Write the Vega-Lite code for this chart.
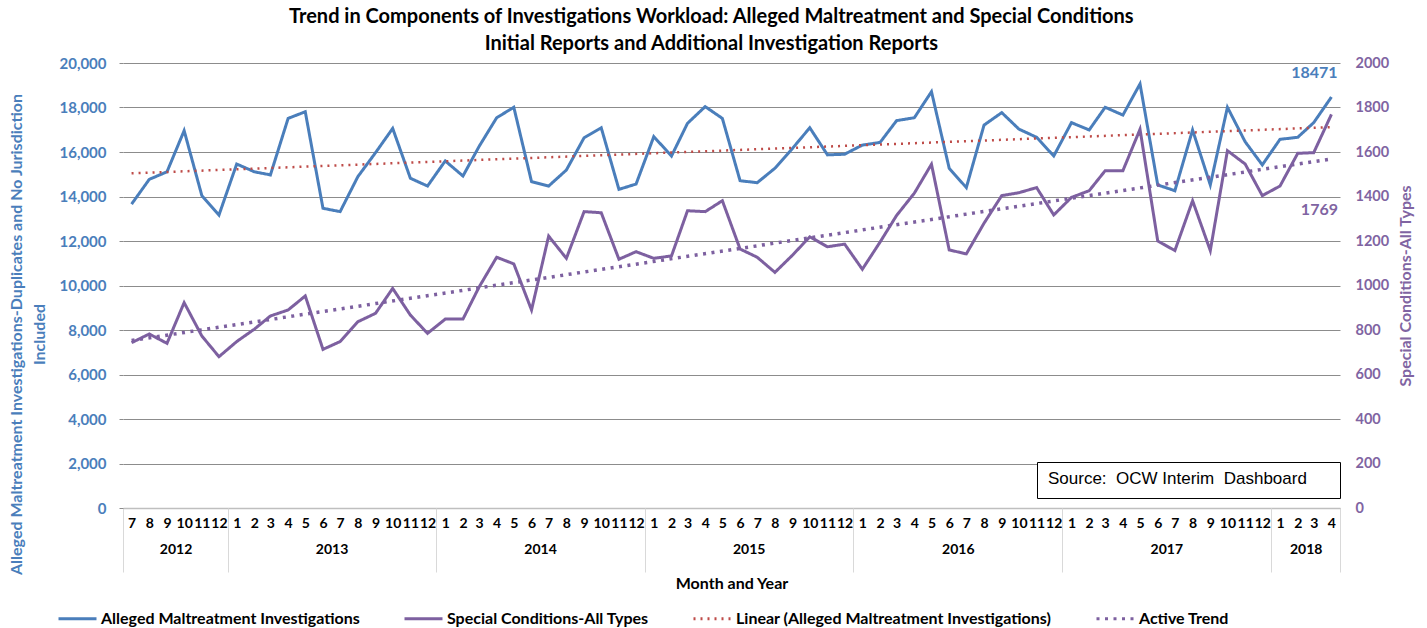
{
  "$schema": "https://vega.github.io/schema/vega-lite/v6.json",
  "width": 1217,
  "height": 445,
  "autosize": "none",
  "padding": {"left": 123, "top": 63, "right": 87, "bottom": 120},
  "background": "white",
  "title": {
    "text": ["Trend in Components of Investigations Workload: Alleged Maltreatment and Special Conditions", "Initial Reports and Additional Investigation Reports"],
    "font": "Lato", "fontSize": 20, "fontWeight": "bold", "color": "black",
    "anchor": "middle", "frame": "bounds", "offset": 1, "lineHeight": 27
  },
  "data": {
    "format": {"parse": {"date": "date"}},
    "values": [
      {"date": "2012-07-01", "investigations": 13660, "special": 743},
      {"date": "2012-08-01", "investigations": 14770, "special": 782},
      {"date": "2012-09-01", "investigations": 15110, "special": 740},
      {"date": "2012-10-01", "investigations": 16960, "special": 923},
      {"date": "2012-11-01", "investigations": 14040, "special": 773},
      {"date": "2012-12-01", "investigations": 13170, "special": 680},
      {"date": "2013-01-01", "investigations": 15460, "special": 748},
      {"date": "2013-02-01", "investigations": 15110, "special": 804},
      {"date": "2013-03-01", "investigations": 14970, "special": 863},
      {"date": "2013-04-01", "investigations": 17510, "special": 890},
      {"date": "2013-05-01", "investigations": 17810, "special": 953},
      {"date": "2013-06-01", "investigations": 13470, "special": 713},
      {"date": "2013-07-01", "investigations": 13320, "special": 748},
      {"date": "2013-08-01", "investigations": 14890, "special": 837},
      {"date": "2013-09-01", "investigations": 15970, "special": 875},
      {"date": "2013-10-01", "investigations": 17060, "special": 987},
      {"date": "2013-11-01", "investigations": 14820, "special": 867},
      {"date": "2013-12-01", "investigations": 14470, "special": 785},
      {"date": "2014-01-01", "investigations": 15600, "special": 849},
      {"date": "2014-02-01", "investigations": 14920, "special": 849},
      {"date": "2014-03-01", "investigations": 16240, "special": 992},
      {"date": "2014-04-01", "investigations": 17540, "special": 1127},
      {"date": "2014-05-01", "investigations": 18010, "special": 1097},
      {"date": "2014-06-01", "investigations": 14670, "special": 890},
      {"date": "2014-07-01", "investigations": 14470, "special": 1222},
      {"date": "2014-08-01", "investigations": 15190, "special": 1122},
      {"date": "2014-09-01", "investigations": 16640, "special": 1332},
      {"date": "2014-10-01", "investigations": 17090, "special": 1327},
      {"date": "2014-11-01", "investigations": 14320, "special": 1118},
      {"date": "2014-12-01", "investigations": 14560, "special": 1152},
      {"date": "2015-01-01", "investigations": 16690, "special": 1122},
      {"date": "2015-02-01", "investigations": 15820, "special": 1133},
      {"date": "2015-03-01", "investigations": 17290, "special": 1336},
      {"date": "2015-04-01", "investigations": 18040, "special": 1332},
      {"date": "2015-05-01", "investigations": 17510, "special": 1381},
      {"date": "2015-06-01", "investigations": 14710, "special": 1164},
      {"date": "2015-07-01", "investigations": 14620, "special": 1127},
      {"date": "2015-08-01", "investigations": 15270, "special": 1059},
      {"date": "2015-09-01", "investigations": 16170, "special": 1137},
      {"date": "2015-10-01", "investigations": 17090, "special": 1219},
      {"date": "2015-11-01", "investigations": 15870, "special": 1174},
      {"date": "2015-12-01", "investigations": 15900, "special": 1186},
      {"date": "2016-01-01", "investigations": 16310, "special": 1073},
      {"date": "2016-02-01", "investigations": 16430, "special": 1195},
      {"date": "2016-03-01", "investigations": 17410, "special": 1315},
      {"date": "2016-04-01", "investigations": 17540, "special": 1415},
      {"date": "2016-05-01", "investigations": 18710, "special": 1545},
      {"date": "2016-06-01", "investigations": 15270, "special": 1160},
      {"date": "2016-07-01", "investigations": 14400, "special": 1142},
      {"date": "2016-08-01", "investigations": 17210, "special": 1280},
      {"date": "2016-09-01", "investigations": 17770, "special": 1404},
      {"date": "2016-10-01", "investigations": 17030, "special": 1417},
      {"date": "2016-11-01", "investigations": 16660, "special": 1440},
      {"date": "2016-12-01", "investigations": 15820, "special": 1317},
      {"date": "2017-01-01", "investigations": 17320, "special": 1396},
      {"date": "2017-02-01", "investigations": 16990, "special": 1426},
      {"date": "2017-03-01", "investigations": 18010, "special": 1516},
      {"date": "2017-04-01", "investigations": 17660, "special": 1516},
      {"date": "2017-05-01", "investigations": 19060, "special": 1702},
      {"date": "2017-06-01", "investigations": 14520, "special": 1200},
      {"date": "2017-07-01", "investigations": 14260, "special": 1157},
      {"date": "2017-08-01", "investigations": 16990, "special": 1381},
      {"date": "2017-09-01", "investigations": 14520, "special": 1157},
      {"date": "2017-10-01", "investigations": 18010, "special": 1606},
      {"date": "2017-11-01", "investigations": 16460, "special": 1546},
      {"date": "2017-12-01", "investigations": 15420, "special": 1404},
      {"date": "2018-01-01", "investigations": 16570, "special": 1447},
      {"date": "2018-02-01", "investigations": 16660, "special": 1594},
      {"date": "2018-03-01", "investigations": 17320, "special": 1597},
      {"date": "2018-04-01", "investigations": 18471, "special": 1769}
    ]
  },
  "layer": [
    {
      "mark": {"type": "line", "strokeWidth": 3},
      "encoding": {
        "x": {
          "field": "date", "type": "temporal",
          "scale": {"type": "utc", "domain": [{"year": 2012, "month": 6, "date": 16, "utc": true}, {"year": 2018, "month": 4, "date": 16, "utc": true}]},
          "axis": {
            "orient": "bottom", "title": null, "grid": false, "ticks": false,
            "domain": true, "domainColor": "#bfbfbf", "domainWidth": 1.5,
            "tickCount": {"interval": "month", "step": 1},
            "labelExpr": "utcmonth(datum.value) + 1",
            "labelFont": "Lato", "labelFontSize": 14, "labelFontWeight": "bold", "labelColor": "black",
            "labelPadding": 8, "labelAngle": 0, "labelOverlap": false, "labelFlush": false, "labelBound": false
          }
        },
        "y": {
          "field": "investigations", "type": "quantitative",
          "scale": {"domain": [0, 20000]},
          "axis": {
            "orient": "left", "tickCount": 10, "format": ",d",
            "grid": true, "gridColor": "#8c8c8c", "gridWidth": 1,
            "domain": false, "ticks": true, "tickSize": 4, "tickColor": "#8c8c8c",
            "labelFont": "Lato", "labelFontSize": 15, "labelFontWeight": "bold", "labelColor": "#4a7ebb", "labelPadding": 13,
            "title": ["Alleged Maltreatment Investigations-Duplicates and No Jurisdiction", "Included"],
            "titleFont": "Lato", "titleFontSize": 16, "titleFontWeight": "bold", "titleColor": "#4a7ebb",
            "titleLineHeight": 23, "titlePadding": 11, "titleY": 271
          }
        },
        "color": {
          "datum": "Alleged Maltreatment Investigations",
          "scale": {"domain": ["Alleged Maltreatment Investigations", "Special Conditions-All Types", "Linear (Alleged Maltreatment Investigations)", "Active Trend"], "range": ["#4a7ebb", "#7d60a0", "#be4b48", "#7d60a0"]},
          "legend": {
            "orient": "none", "legendX": -66, "legendY": 535, "direction": "horizontal", "title": null,
            "symbolType": "stroke", "symbolSize": 1444, "symbolStrokeWidth": 3,
            "labelFont": "Lato", "labelFontSize": 16, "labelFontWeight": "bold", "labelColor": "black",
            "labelOffset": 3, "columnPadding": 38, "labelLimit": 400, "padding": 0
          }
        },
        "strokeDash": {
          "datum": "Alleged Maltreatment Investigations",
          "scale": {"domain": ["Alleged Maltreatment Investigations", "Special Conditions-All Types", "Linear (Alleged Maltreatment Investigations)", "Active Trend"], "range": [[1, 0], [1, 0], [2, 5], [3, 5.5]]},
          "legend": {
            "orient": "none", "legendX": -66, "legendY": 535, "direction": "horizontal", "title": null,
            "symbolType": "stroke", "symbolSize": 1444, "symbolStrokeWidth": 3,
            "labelFont": "Lato", "labelFontSize": 16, "labelFontWeight": "bold", "labelColor": "black",
            "labelOffset": 3, "columnPadding": 38, "labelLimit": 400, "padding": 0
          }
        }
      }
    },
    {
      "transform": [{"regression": "investigations", "on": "date"}],
      "mark": {"type": "line", "strokeWidth": 2.5},
      "encoding": {
        "x": {"field": "date", "type": "temporal", "axis": null},
        "y": {"field": "investigations", "type": "quantitative", "scale": {"domain": [0, 20000]}, "axis": null},
        "color": {"datum": "Linear (Alleged Maltreatment Investigations)"},
        "strokeDash": {"datum": "Linear (Alleged Maltreatment Investigations)"}
      }
    },
    {
      "transform": [{"filter": "utcyear(datum.date) == 2018 && utcmonth(datum.date) == 3"}],
      "mark": {"type": "text", "dx": -17, "dy": -24, "font": "Lato", "fontSize": 16, "fontWeight": "bold", "color": "#4a7ebb"},
      "encoding": {
        "x": {"field": "date", "type": "temporal", "axis": null},
        "y": {"field": "investigations", "type": "quantitative", "scale": {"domain": [0, 20000]}, "axis": null},
        "text": {"field": "investigations", "type": "quantitative", "format": "d"}
      }
    },
    {
      "mark": {"type": "line", "strokeWidth": 3},
      "encoding": {
        "x": {
          "field": "date", "type": "temporal",
          "axis": {
            "orient": "bottom", "grid": false, "ticks": false, "domain": false,
            "values": [
              {"year": 2012, "month": 9, "date": 16, "utc": true},
              {"year": 2013, "month": 6, "date": 16, "utc": true},
              {"year": 2014, "month": 6, "date": 16, "utc": true},
              {"year": 2015, "month": 6, "date": 16, "utc": true},
              {"year": 2016, "month": 6, "date": 16, "utc": true},
              {"year": 2017, "month": 6, "date": 16, "utc": true},
              {"year": 2018, "month": 2, "date": 15, "utc": true}
            ],
            "labelExpr": "utcyear(datum.value)",
            "labelFont": "Lato", "labelFontSize": 14, "labelFontWeight": "bold", "labelColor": "black",
            "labelPadding": 34, "labelAngle": 0, "labelOverlap": false, "labelFlush": false, "labelBound": false,
            "title": "Month and Year", "titleFont": "Lato", "titleFontSize": 16, "titleFontWeight": "bold", "titleColor": "black",
            "titlePadding": 19
          }
        },
        "y": {
          "field": "special", "type": "quantitative",
          "scale": {"domain": [0, 2000]},
          "axis": {
            "orient": "right", "tickCount": 10, "format": "d",
            "grid": false, "domain": false, "ticks": false,
            "labelFont": "Lato", "labelFontSize": 14.5, "labelFontWeight": "bold", "labelColor": "#8064a2", "labelPadding": 15,
            "title": "Special Conditions-All Types", "titleAngle": 270,
            "titleFont": "Lato", "titleFontSize": 16, "titleFontWeight": "bold", "titleColor": "#8064a2",
            "titlePadding": 25
          }
        },
        "color": {"datum": "Special Conditions-All Types"},
        "strokeDash": {"datum": "Special Conditions-All Types"}
      }
    },
    {
      "transform": [{"regression": "special", "on": "date"}],
      "mark": {"type": "line", "strokeWidth": 3.5},
      "encoding": {
        "x": {"field": "date", "type": "temporal", "axis": null},
        "y": {"field": "special", "type": "quantitative", "scale": {"domain": [0, 2000]}, "axis": null},
        "color": {"datum": "Active Trend"},
        "strokeDash": {"datum": "Active Trend"}
      }
    },
    {
      "transform": [{"filter": "utcyear(datum.date) == 2018 && utcmonth(datum.date) == 3"}],
      "mark": {"type": "text", "dx": -12, "dy": 96, "font": "Lato", "fontSize": 16, "fontWeight": "bold", "color": "#8064a2"},
      "encoding": {
        "x": {"field": "date", "type": "temporal", "axis": null},
        "y": {"field": "special", "type": "quantitative", "scale": {"domain": [0, 2000]}, "axis": null},
        "text": {"field": "special", "type": "quantitative", "format": "d"}
      }
    },
    {
      "mark": {"type": "point", "opacity": 0},
      "encoding": {
        "x": {
          "field": "date", "type": "temporal",
          "axis": {
            "orient": "bottom", "grid": false, "domain": false, "labels": false, "title": null,
            "ticks": true, "tickSize": 64, "tickColor": "#d9d9d9", "tickWidth": 1,
            "values": [
              {"year": 2012, "month": 6, "date": 16, "utc": true},
              {"year": 2012, "month": 12, "date": 16, "utc": true},
              {"year": 2013, "month": 12, "date": 16, "utc": true},
              {"year": 2014, "month": 12, "date": 16, "utc": true},
              {"year": 2015, "month": 12, "date": 16, "utc": true},
              {"year": 2016, "month": 12, "date": 16, "utc": true},
              {"year": 2017, "month": 12, "date": 16, "utc": true},
              {"year": 2018, "month": 4, "date": 16, "utc": true}
            ]
          }
        },
        "y": {"field": "investigations", "type": "quantitative", "axis": null},
        "shape": {
          "datum": "Source",
          "legend": {
            "orient": "none", "legendX": 914, "legendY": 399,
            "title": "Source:\u00a0 OCW Interim\u00a0 Dashboard", "titleOrient": "left",
            "titleFont": "Liberation Sans", "titleFontSize": 17, "titleFontWeight": "normal", "titleColor": "black",
            "titlePadding": 10, "titleLimit": 400,
            "symbolSize": 100, "symbolOpacity": 0, "labelOffset": 0,
            "labelExpr": "''", "labelOpacity": 0,
            "strokeColor": "black", "fillColor": "white", "padding": 11, "cornerRadius": 0
          }
        }
      }
    }
  ],
  "resolve": {
    "scale": {"y": "independent"},
    "axis": {"x": "independent", "y": "independent"}
  },
  "config": {
    "view": {"stroke": null},
    "font": "Lato"
  }
}
